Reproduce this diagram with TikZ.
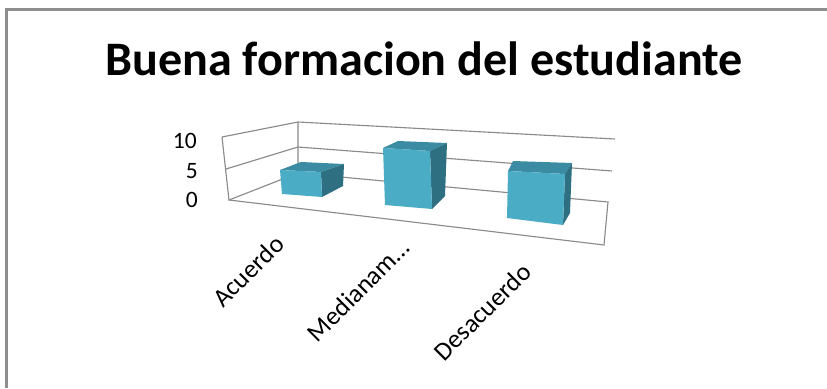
\documentclass[tikz,border=0pt]{standalone}
\usepackage{fontspec}
\setmainfont{Carlito}
\usepackage{tikz}

\definecolor{framegray}{HTML}{8E8E8E}
\definecolor{gridgray}{HTML}{8A8A8A}
\definecolor{barfront}{HTML}{4BACC6}
\definecolor{bartop}{HTML}{3B8CA3}
\definecolor{barside}{HTML}{2F6F82}

\tikzset{
  gridline/.style={draw=gridgray, line width=0.8pt},
  axislabel/.style={font=\fontsize{16.7}{18}\selectfont, anchor=east, inner sep=0pt},
  catlabel/.style={font=\fontsize{18.4}{20}\selectfont, rotate=45, anchor=north east, inner sep=0pt},
}

\begin{document}
\begin{tikzpicture}[x=0.025cm, y=-0.025cm]
   \useasboundingbox (0,0) rectangle (827,388);
   \fill[white] (0,0) rectangle (827,388);

   % chart frame
   \draw[framegray, line width=1.5pt] (6.5,388) -- (6.5,9.5) -- (827,9.5);

   \node[font=\fontsize{34.2}{37}\bfseries\selectfont, anchor=base, inner sep=0pt] (title) at (424,75) {Buena formacion del estudiante};

   % walls and floor
   \begin{scope}[gridline]
     \draw (222,137) -- (298,122) -- (615,139);
     \draw (226,169) -- (298,147) -- (612,171);
     \draw (222,137) -- (229,200) -- (298,173) -- (298,122);
     \draw (298,173) -- (608,202) -- (604,245) -- (229,200);
   \end{scope}

   \node[axislabel] (v10) at (197,141) {10};
   \node[axislabel] (v5) at (198,171) {5};
   \node[axislabel] (v0) at (198,200) {0};

   % bars
   \begin{scope}
     % Acuerdo
     \fill[bartop] (280,170) -- (321,172) -- (344,164) -- (301,162) -- cycle;
     \fill[barside] (321,172) -- (344,164) -- (343,186) -- (322,197) -- cycle;
     \fill[barfront] (280,170) -- (321,172) -- (322,197) -- (282,194) -- cycle;
     % Medianamente
     \fill[bartop] (383,148) -- (430,151) -- (447,143) -- (398,141) -- cycle;
     \fill[barside] (430,151) -- (447,143) -- (445,196) -- (432,209) -- cycle;
     \fill[barfront] (383,148) -- (430,151) -- (432,209) -- (385,205) -- cycle;
     % Desacuerdo
     \fill[bartop] (508,171) -- (565,174) -- (572,163) -- (513,161) -- cycle;
     \fill[barside] (565,174) -- (572,163) -- (570,213) -- (563,225) -- cycle;
     \fill[barfront] (508,171) -- (565,174) -- (563,225) -- (507,218) -- cycle;
   \end{scope}

   \node[catlabel] (c1) at (273,233) {Acuerdo};
   \node[catlabel] (c2) at (398,237) {Medianam…};
   \node[catlabel] (c3) at (520,261) {Desacuerdo};
\end{tikzpicture}
\end{document}
